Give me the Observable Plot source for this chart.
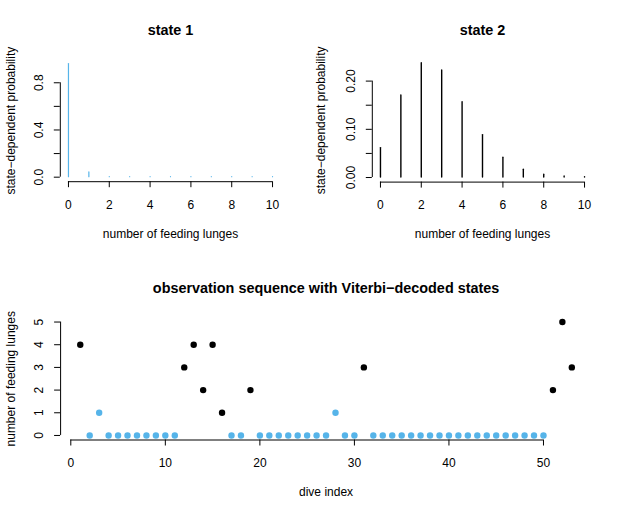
<!DOCTYPE html>
<html>
<head>
<meta charset="utf-8">
<script src="https://cdn.jsdelivr.net/npm/d3@7"></script>
<script src="https://cdn.jsdelivr.net/npm/@observablehq/plot@0.6"></script>
<style>
  html, body { margin: 0; padding: 0; background: #fff; }
  #chart { position: relative; width: 623px; height: 515px; background: #fff; }
  #chart svg { position: absolute; left: 0; top: 0; }
</style>
</head>
<body>
<div id="chart"></div>
<script>
// ---- data ----
const lunges = [0, 1, 2, 3, 4, 5, 6, 7, 8, 9, 10];
const state1Prob = [0.958, 0.040, 0.0008, 0.00001, 0, 0, 0, 0, 0, 0, 0];
const state2Prob = [0.061, 0.170, 0.237, 0.222, 0.156, 0.088, 0.041, 0.016, 0.006, 0.002, 0.0005];

const diveIndex = [1,2,3,4,5,6,7,8,9,10,11,12,13,14,15,16,17,18,19,20,21,22,23,24,25,26,27,28,29,30,31,32,33,34,35,36,37,38,39,40,41,42,43,44,45,46,47,48,49,50,51,52,53];
const lungeCounts = [4,0,1,0,0,0,0,0,0,0,0,3,4,2,4,1,0,0,2,0,0,0,0,0,0,0,0,1,0,0,3,0,0,0,0,0,0,0,0,0,0,0,0,0,0,0,0,0,0,0,2,5,3];
const viterbiStates = [2,1,1,1,1,1,1,1,1,1,1,2,2,2,2,2,1,1,2,1,1,1,1,1,1,1,1,1,1,1,2,1,1,1,1,1,1,1,1,1,1,1,1,1,1,1,1,1,1,1,2,2,2];

const xTicksTop = [0, 2, 4, 6, 8, 10];
const yTicks1 = [0, 0.2, 0.4, 0.6, 0.8];
const yLabels1 = [0, 0.4, 0.8];
const yTicks2 = [0, 0.05, 0.10, 0.15, 0.20];
const yLabels2 = [0, 0.10, 0.20];
const xTicksBottom = [0, 10, 20, 30, 40, 50];
const yTicksBottom = [0, 1, 2, 3, 4, 5];

const titles = ["state 1", "state 2", "observation sequence with Viterbi\u2212decoded states"];
const xTitleTop = "number of feeding lunges";
const yTitleTop = "state\u2212dependent probability";
const xTitleBottom = "dive index";
const yTitleBottom = "number of feeding lunges";

// ---- helpers ----
const BLUE = "#56B4E9";
const W = 623, H = 515;
const FONT = "'Liberation Sans', Arial, Helvetica, sans-serif";
const ext = (lo, hi) => { const d = (hi - lo) * 0.04; return [lo - d, hi + d]; };

function rAxes({xTicks, yTicks, yLabels, yFmt, xDom, yDom, title, xTitle, yTitle, yTitleDx, titleDy}) {
  return [
    Plot.ruleY([yDom[0]], {x1: xTicks[0], x2: xTicks[xTicks.length - 1], stroke: "#000"}),
    Plot.ruleX([xDom[0]], {y1: yTicks[0], y2: yTicks[yTicks.length - 1], stroke: "#000"}),
    Plot.axisX({ticks: xTicks, tickSize: 6, tickFormat: () => "", label: null, stroke: "#000"}),
    Plot.axisY({ticks: yTicks, tickSize: 6, tickFormat: () => "", label: null, stroke: "#000"}),
    Plot.text(xTicks, {x: d => d, text: d => String(d), frameAnchor: "bottom", dy: 23, textAnchor: "middle", lineAnchor: "middle", fontSize: 12, fill: "#000"}),
    Plot.text(yLabels, {y: d => d, text: yFmt, frameAnchor: "left", dx: -21, rotate: -90, textAnchor: "middle", lineAnchor: "middle", fontSize: 12, fill: "#000"}),
    Plot.text([xTitle], {text: d => d, frameAnchor: "bottom", dy: 52, textAnchor: "middle", lineAnchor: "middle", fontSize: 12, fill: "#000"}),
    Plot.text([yTitle], {text: d => d, frameAnchor: "left", dx: yTitleDx, rotate: -90, textAnchor: "middle", lineAnchor: "middle", fontSize: 12, fill: "#000"}),
    Plot.text([title], {text: d => d, frameAnchor: "top", dy: titleDy, textAnchor: "middle", lineAnchor: "middle", fontSize: 14.4, fontWeight: "bold", fill: "#000"})
  ];
}

function panel(opts, margins, marks) {
  return Plot.plot({
    width: W, height: H,
    ...margins,
    x: {domain: opts.xDom, axis: null},
    y: {domain: opts.yDom, axis: null},
    style: {fontFamily: FONT, fontSize: "12px", background: "transparent", overflow: "visible"},
    marks: [...marks, ...rAxes(opts)]
  });
}

const chart = document.getElementById("chart");

// ---- panel 1: state 1 ----
const t1 = lunges.map((k, i) => ({k, p: state1Prob[i]}));
const o1 = {
  xTicks: xTicksTop, yTicks: yTicks1, yLabels: yLabels1, yFmt: d => d.toFixed(1),
  xDom: ext(0, 10), yDom: ext(0, d3.max(state1Prob)),
  title: titles[0], xTitle: xTitleTop, yTitle: yTitleTop, yTitleDx: -49, titleDy: -29
};
chart.appendChild(panel(o1, {marginLeft: 59.8, marginRight: 342.8, marginTop: 59.1, marginBottom: 333.8}, [
  Plot.ruleX(t1, {x: "k", y1: 0, y2: "p", stroke: BLUE, strokeWidth: 1.2, strokeLinecap: "round"})
]));

// ---- panel 2: state 2 ----
const t2 = lunges.map((k, i) => ({k, p: state2Prob[i]}));
const o2 = {
  xTicks: xTicksTop, yTicks: yTicks2, yLabels: yLabels2, yFmt: d => d.toFixed(2),
  xDom: ext(0, 10), yDom: ext(0, d3.max(state2Prob)),
  title: titles[1], xTitle: xTitleTop, yTitle: yTitleTop, yTitleDx: -51, titleDy: -28
};
chart.appendChild(panel(o2, {marginLeft: 371.8, marginRight: 30.8, marginTop: 58.2, marginBottom: 333.4}, [
  Plot.ruleX(t2, {x: "k", y1: 0, y2: "p", stroke: "#000", strokeWidth: 1.4, strokeLinecap: "round"})
]));

// ---- panel 3: observation sequence ----
const t3 = diveIndex.map((d, i) => ({d, n: lungeCounts[i], s: viterbiStates[i]}));
const o3 = {
  xTicks: xTicksBottom, yTicks: yTicksBottom, yLabels: yTicksBottom, yFmt: d => String(d),
  xDom: ext(d3.min(diveIndex), d3.max(diveIndex)), yDom: ext(0, d3.max(lungeCounts)),
  title: titles[2], xTitle: xTitleBottom, yTitle: yTitleBottom, yTitleDx: -49, titleDy: -29
};
chart.appendChild(panel(o3, {marginLeft: 60.1, marginRight: 32, marginTop: 317, marginBottom: 75.5}, [
  Plot.dot(t3, {x: "d", y: "n", r: 3.2, fill: d => d.s === 1 ? BLUE : "#000", stroke: "none"})
]));
</script>
</body>
</html>
